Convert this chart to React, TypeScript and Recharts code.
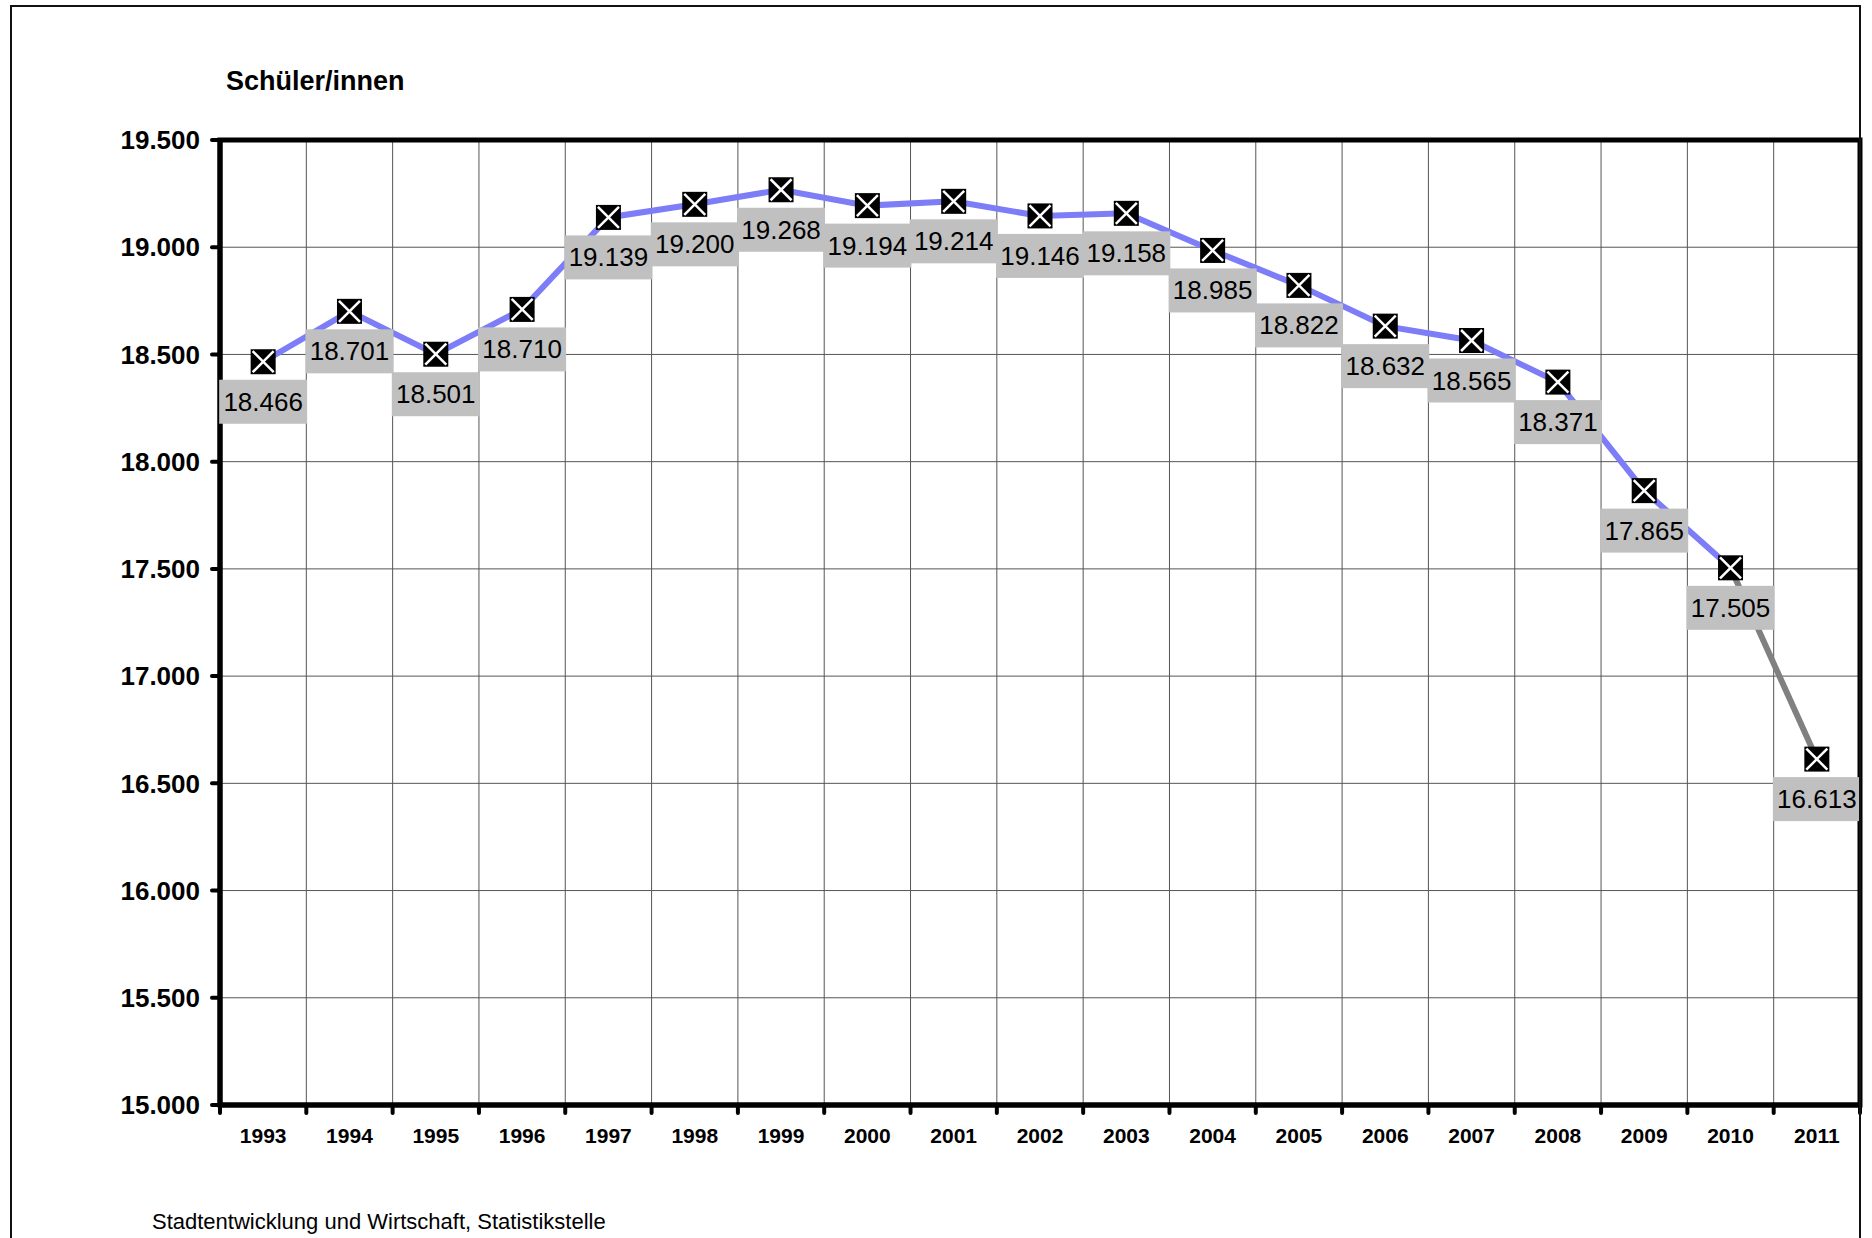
import React from "react";
import {
  LineChart,
  Line,
  XAxis,
  YAxis,
  CartesianGrid,
  LabelList,
  ReferenceArea,
} from "recharts";

const years = [
  "1993", "1994", "1995", "1996", "1997", "1998", "1999", "2000", "2001", "2002",
  "2003", "2004", "2005", "2006", "2007", "2008", "2009", "2010", "2011",
];

const pupils = [
  18466, 18701, 18501, 18710, 19139, 19200, 19268, 19194, 19214, 19146,
  19158, 18985, 18822, 18632, 18565, 18371, 17865, 17505, 16613,
];

const yTicks = [15000, 15500, 16000, 16500, 17000, 17500, 18000, 18500, 19000, 19500];

const FONT = '"Liberation Sans", Arial, Helvetica, sans-serif';

const W = 1872;
const H = 1238;
const MARGIN = { top: 140, right: 12, bottom: 93, left: 100 };
const Y_AXIS_W = 120;
const X_AXIS_H = 40;
const PLOT_LEFT = MARGIN.left + Y_AXIS_W;
const PLOT_W = W - PLOT_LEFT - MARGIN.right;
const BAND = PLOT_W / years.length;

// blue line runs to 2010, the last step to 2011 is grey
const data = years.map((year, i) => ({
  year,
  value: pupils[i],
  main: i < pupils.length - 1 ? pupils[i] : null,
  last: i >= pupils.length - 2 ? pupils[i] : null,
}));

const fmt = (v: number) => String(v).replace(/\B(?=(\d{3})+(?!\d))/g, ".");

const XTick = ({ x, y, payload, index }: any) => {
  const left = x - BAND / 2;
  const right = x + BAND / 2;
  return (
    <g>
      <line x1={left} x2={left} y1={y} y2={y + 8} stroke="#000" strokeWidth={4} strokeLinecap="round" />
      {index === years.length - 1 && (
        <line x1={right} x2={right} y1={y} y2={y + 8} stroke="#000" strokeWidth={4} strokeLinecap="round" />
      )}
      <text
        x={x}
        y={y + 38}
        textAnchor="middle"
        fontFamily={FONT}
        fontWeight={700}
        fontSize={21}
        fill="#000"
      >
        {payload.value}
      </text>
    </g>
  );
};

const Marker = (props: any) => {
  const { cx, cy, index } = props;
  if (cx == null || cy == null) return <g key={`m-${index}`} />;
  const s = 12.5;
  return (
    <g key={`m-${index}`}>
      <rect x={cx - s} y={cy - s} width={s * 2} height={s * 2} fill="#000" />
      <line x1={cx - s + 2} y1={cy - s + 2} x2={cx + s - 2} y2={cy + s - 2} stroke="#fff" strokeWidth={2.5} />
      <line x1={cx + s - 2} y1={cy - s + 2} x2={cx - s + 2} y2={cy + s - 2} stroke="#fff" strokeWidth={2.5} />
    </g>
  );
};

const ValueBox = (props: any) => {
  const { x, y, value } = props;
  if (value == null || x == null || y == null) return null;
  return (
    <g>
      <rect x={x - 44} y={y + 18} width={88} height={44} fill="#c0c0c0" />
      <text
        x={x}
        y={y + 49}
        textAnchor="middle"
        fontFamily={FONT}
        fontSize={26}
        fill="#000"
      >
        {fmt(value)}
      </text>
    </g>
  );
};

export default function App() {
  return (
    <div
      style={{
        position: "absolute",
        left: 0,
        top: 0,
        width: W,
        height: H,
        overflow: "hidden",
        background: "#fff",
      }}
    >
      <LineChart width={W} height={H} data={data} margin={MARGIN}>
        <CartesianGrid
          stroke="#555"
          strokeWidth={1}
          verticalCoordinatesGenerator={(p: any) => {
            const left = p?.offset?.left ?? PLOT_LEFT;
            const w = p?.offset?.width ?? PLOT_W;
            return years.slice(1).map((_, i) => left + ((i + 1) * w) / years.length);
          }}
        />
        <XAxis
          dataKey="year"
          scale="band"
          height={X_AXIS_H}
          interval={0}
          tickSize={0}
          tickMargin={0}
          tickLine={false}
          tick={(p: any) => <XTick {...p} />}
          axisLine={{ stroke: "#000", strokeWidth: 5 }}
        />
        <YAxis
          domain={[15000, 19500]}
          ticks={yTicks}
          interval={0}
          width={Y_AXIS_W}
          tickFormatter={fmt}
          tickSize={8}
          tickMargin={12}
          tick={{ fontSize: 26, fontWeight: 700, fill: "#000", fontFamily: FONT }}
          tickLine={{ stroke: "#000", strokeWidth: 4, strokeLinecap: "round" }}
          axisLine={{ stroke: "#000", strokeWidth: 5 }}
        />
        <ReferenceArea
          x1="1993"
          x2="2011"
          y1={15000}
          y2={19500}
          fill="none"
          stroke="#000"
          strokeWidth={5}
          ifOverflow="visible"
        />
        <Line
          dataKey="main"
          stroke="#7d7df8"
          strokeWidth={6}
          dot={false}
          activeDot={false}
          isAnimationActive={false}
        />
        <Line
          dataKey="last"
          stroke="#808080"
          strokeWidth={6}
          dot={false}
          activeDot={false}
          isAnimationActive={false}
        />
        <Line
          dataKey="value"
          stroke="none"
          dot={Marker}
          activeDot={false}
          isAnimationActive={false}
        >
          <LabelList dataKey="value" content={ValueBox} />
        </Line>
      </LineChart>

      <svg
        width={W}
        height={H}
        style={{ position: "absolute", left: 0, top: 0, pointerEvents: "none" }}
      >
        <path d={`M11 ${H} V6 H1860 V${H}`} fill="none" stroke="#111" strokeWidth={2} />
        <text x={226} y={90} fontFamily={FONT} fontWeight={700} fontSize={27} fill="#000">
          Schüler/innen
        </text>
        <text x={152} y={1229} fontFamily={FONT} fontSize={22} fill="#000">
          Stadtentwicklung und Wirtschaft, Statistikstelle
        </text>
      </svg>
    </div>
  );
}
